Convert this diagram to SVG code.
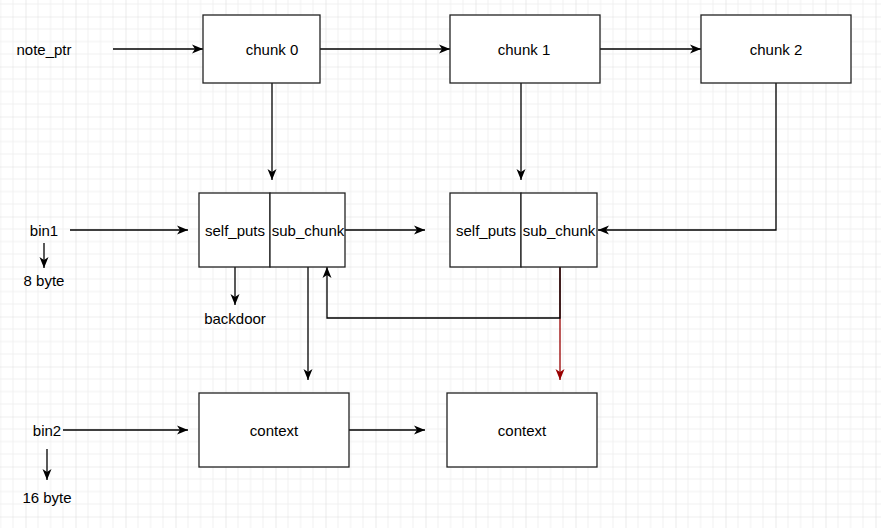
<svg xmlns="http://www.w3.org/2000/svg" width="881" height="528" viewBox="0 0 881 528">
<style>
.box{fill:#fff;stroke:#222;stroke-width:1.3}
.ln{fill:none;stroke:#000;stroke-width:1.3}
.red{fill:none;stroke:#990000;stroke-width:1.3}
text{font-family:"Liberation Sans",Arial,sans-serif;font-size:15px;fill:#000;text-anchor:middle;dominant-baseline:central}
</style>
<defs>
<pattern id="grid" x="25.5" y="16.5" width="50" height="50" patternUnits="userSpaceOnUse">
<path d="M12.5 0V50M25 0V50M37.5 0V50M0 12.5H50M0 25H50M0 37.5H50" stroke="#f0f0f0" stroke-width="1"/>
<path d="M0 0V50M0 0H50" stroke="#dedede" stroke-width="1.2"/>
</pattern>
<marker id="ah" markerUnits="userSpaceOnUse" markerWidth="14" markerHeight="12" refX="12" refY="6" orient="auto">
<path d="M1 1.5L12 6L1 10.5L4 6z" fill="#000"/>
</marker>
<marker id="ahr" markerUnits="userSpaceOnUse" markerWidth="14" markerHeight="12" refX="12" refY="6" orient="auto">
<path d="M1 1.5L12 6L1 10.5L4 6z" fill="#990000"/>
</marker>
</defs>
<rect width="881" height="528" fill="#fff"/>
<rect width="881" height="528" fill="url(#grid)"/>

<g id="connectors">
<path class="ln" d="M113 49H203" marker-end="url(#ah)"/>
<path class="ln" d="M320 49H450" marker-end="url(#ah)"/>
<path class="ln" d="M600 49H701" marker-end="url(#ah)"/>
<path class="ln" d="M272 83V180" marker-end="url(#ah)"/>
<path class="ln" d="M521 83V180" marker-end="url(#ah)"/>
<path class="ln" d="M776 83V230H598" marker-end="url(#ah)"/>
<path class="ln" d="M70 230H188" marker-end="url(#ah)"/>
<path class="ln" d="M345 230H425" marker-end="url(#ah)"/>
<path class="ln" d="M44 243V268" marker-end="url(#ah)"/>
<path class="ln" d="M235 267V305" marker-end="url(#ah)"/>
<path class="ln" d="M308 267V380" marker-end="url(#ah)"/>
<path class="red" d="M560 267V380" marker-end="url(#ahr)"/>
<path class="ln" d="M560 267V318H327V267" marker-end="url(#ah)"/>
<path class="ln" d="M63 430H188" marker-end="url(#ah)"/>
<path class="ln" d="M349 430H425" marker-end="url(#ah)"/>
<path class="ln" d="M47 449V480" marker-end="url(#ah)"/>
</g>

<g id="note_ptr"><text x="44" y="49">note_ptr</text></g>
<g id="chunk0"><rect class="box" x="203" y="15" width="117" height="68"/><text x="272" y="49">chunk 0</text></g>
<g id="chunk1"><rect class="box" x="450" y="15" width="150" height="68"/><text x="524" y="49">chunk 1</text></g>
<g id="chunk2"><rect class="box" x="701" y="15" width="150" height="68"/><text x="776" y="49">chunk 2</text></g>

<g id="bin1"><text x="44" y="230">bin1</text></g>
<g id="size8"><text x="44" y="280">8 byte</text></g>
<g id="struct1">
<rect class="box" x="199" y="193" width="71" height="74"/><text x="235" y="230">self_puts</text>
<rect class="box" x="270" y="193" width="75" height="74"/><text x="308" y="230">sub_chunk</text>
</g>
<g id="struct2">
<rect class="box" x="450" y="193" width="71" height="74"/><text x="486" y="230">self_puts</text>
<rect class="box" x="521" y="193" width="76" height="74"/><text x="559" y="230">sub_chunk</text>
</g>
<g id="backdoor"><text x="235" y="318">backdoor</text></g>

<g id="bin2"><text x="47" y="430">bin2</text></g>
<g id="size16"><text x="47" y="497">16 byte</text></g>
<g id="context1"><rect class="box" x="199" y="393" width="150" height="74"/><text x="274" y="430">context</text></g>
<g id="context2"><rect class="box" x="447" y="393" width="150" height="74"/><text x="522" y="430">context</text></g>
</svg>
